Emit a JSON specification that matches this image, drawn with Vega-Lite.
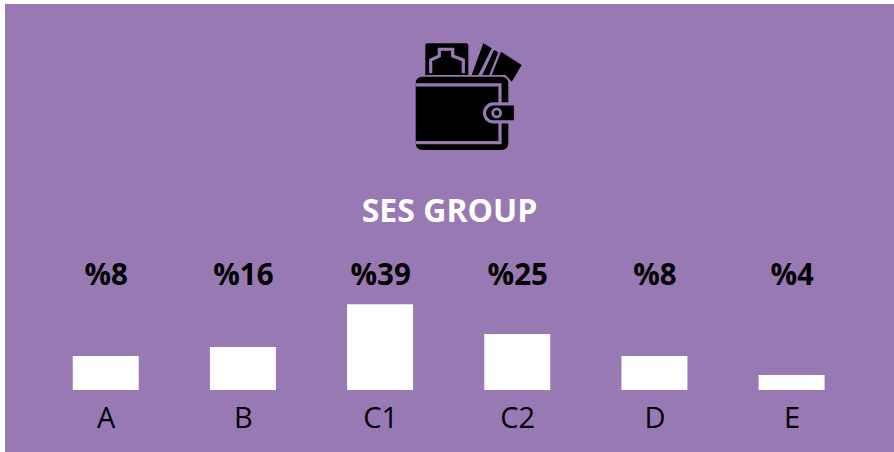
{
  "$schema": "https://vega.github.io/schema/vega-lite/v6.json",
  "width": 889,
  "height": 448,
  "padding": {"left": 5, "top": 4, "right": 0, "bottom": 0},
  "autosize": {"type": "none"},
  "background": "#ffffff",
  "config": {"view": {"fill": "#9879b4", "stroke": null}, "font": "Open Sans"},
  "data": {"values": [
    {"group": "A", "label": "%8", "bar": 15.5},
    {"group": "B", "label": "%16", "bar": 19.5},
    {"group": "C1", "label": "%39", "bar": 39},
    {"group": "C2", "label": "%25", "bar": 25.5},
    {"group": "D", "label": "%8", "bar": 15.5},
    {"group": "E", "label": "%4", "bar": 6.8}
  ]},
  "layer": [
    {
      "mark": {"type": "bar", "color": "#ffffff"},
      "encoding": {
        "x": {"field": "group", "type": "nominal", "sort": null, "axis": null,
              "scale": {"paddingInner": 0.519, "paddingOuter": 0.5, "align": 0.494}},
        "y": {"field": "bar", "type": "quantitative", "axis": null,
              "scale": {"domain": [-28.18, 175.45], "nice": false, "zero": false}},
        "y2": {"datum": 0}
      }
    },
    {
      "mark": {"type": "text", "font": "Open Sans", "fontSize": 29.5, "fontWeight": "bold", "color": "#000000", "baseline": "middle", "dx": 0.5},
      "encoding": {
        "x": {"field": "group", "type": "nominal", "sort": null},
        "y": {"datum": 52, "type": "quantitative"},
        "text": {"field": "label"}
      }
    },
    {
      "mark": {"type": "text", "font": "Open Sans", "fontSize": 29, "color": "#000000", "baseline": "middle", "dx": 0.5},
      "encoding": {
        "x": {"field": "group", "type": "nominal", "sort": null},
        "y": {"datum": -13.3, "type": "quantitative"},
        "text": {"field": "group"}
      }
    },
    {
      "data": {"values": [{"title": "SES GROUP"}]},
      "mark": {"type": "text", "font": "Open Sans", "fontSize": 32, "fontWeight": "bold", "color": "#ffffff", "baseline": "middle"},
      "encoding": {
        "y": {"datum": 80.8, "type": "quantitative"},
        "text": {"field": "title"}
      }
    },
    {
      "data": {"values": [{"icon": "wallet"}]},
      "layer": [
        {"mark": {"type": "point", "filled": true, "fill": "#000000", "opacity": 1, "size": 4,
          "shape": "M-24.2-51.7Q-24.2-53.7-22.2-53.7H16.8Q18.8-53.7 18.8-51.7V-22H-24.2ZM33.8-53.7 42.2-48.7 28.8-22H22.2ZM44.5-47 48.8-44.7 39.8-22H32.8ZM51.5-45.3 72.2-32 62.2-15.3 56-22H42.2ZM-26.8-20.3H51.8Q58.8-20.3 58.8-13.3V46Q58.8 53 51.8 53H-26.8Q-33.8 53-33.8 46V-13.3Q-33.8-20.3-26.8-20.3Z"},
          "encoding": {"y": {"datum": 133.2, "type": "quantitative"}}},
        {"mark": {"type": "point", "filled": false, "fill": null, "stroke": "#9879b4", "strokeWidth": 3.2, "opacity": 1, "size": 4,
          "shape": "M-18.8-23.7V-37L-10.2-41V-47.7H3.2V-41L13.8-37V-23.7M-33.8-12H50.5V8M50.5 23V45.7H-33.8"},
          "encoding": {"y": {"datum": 133.2, "type": "quantitative"}}},
        {"mark": {"type": "point", "filled": true, "fill": "#000000", "stroke": "#9879b4", "strokeWidth": 3.2, "opacity": 1, "size": 4,
          "shape": "M66 7H44A9 9 0 0 0 44 25H66Z"},
          "encoding": {"y": {"datum": 133.2, "type": "quantitative"}}},
        {"mark": {"type": "point", "filled": true, "fill": "#000000", "stroke": "#9879b4", "strokeWidth": 2.8, "opacity": 1, "size": 4,
          "shape": "M51.2 16A4 4 0 1 0 43.2 16A4 4 0 1 0 51.2 16Z"},
          "encoding": {"y": {"datum": 133.2, "type": "quantitative"}}}
      ]
    }
  ]
}
